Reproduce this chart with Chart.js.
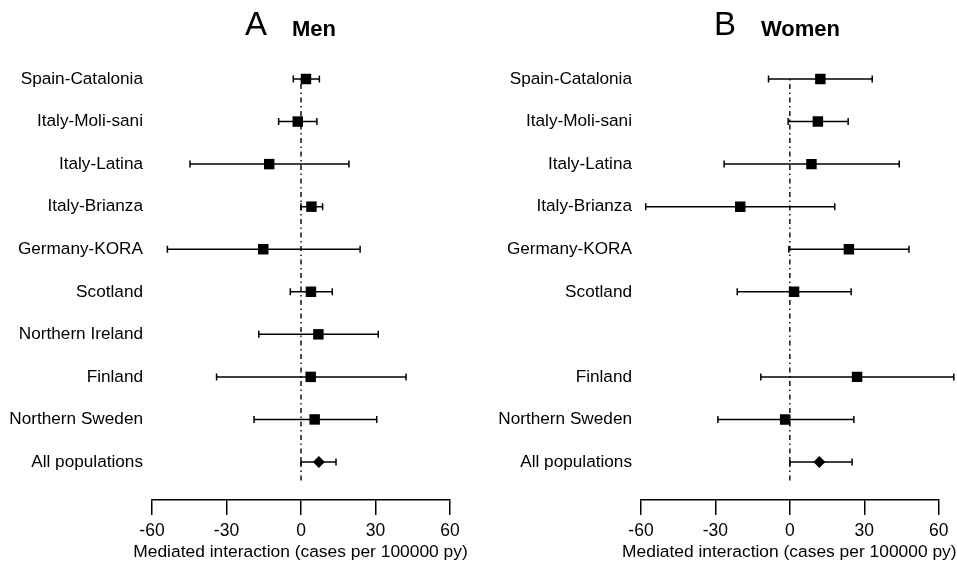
<!DOCTYPE html>
<html>
<head>
<meta charset="utf-8">
<script src="https://cdn.jsdelivr.net/npm/chart.js@4/dist/chart.umd.min.js"></script>
<style>
  body { margin: 0; background: #fff; }
  #wrap { position: relative; width: 957px; height: 562px; }
  .panel { position: absolute; top: 0; height: 562px; }
</style>
</head>
<body>
<div id="wrap">
  <div class="panel" style="left:0;width:478px"><canvas id="menChart" width="478" height="562"></canvas></div>
  <div class="panel" style="left:478px;width:479px"><canvas id="womenChart" width="479" height="562"></canvas></div>
</div>
<script>
const populations = ['Spain-Catalonia', 'Italy-Moli-sani', 'Italy-Latina', 'Italy-Brianza', 'Germany-KORA',
    'Scotland', 'Northern Ireland', 'Finland', 'Northern Sweden', 'All populations'];

const menEstimate = [2.0, -1.3, -12.8, 4.2, -15.2, 4.0, 7.0, 3.9, 5.5, 7.2];
const menLower = [-3.1, -9.0, -44.7, 0.0, -53.8, -4.3, -17.0, -34.0, -18.9, 0.0];
const menUpper = [7.4, 6.4, 19.3, 8.7, 23.8, 12.6, 31.1, 42.3, 30.5, 14.1];

// no estimate for Northern Ireland in women
const womenEstimate = [12.3, 11.3, 8.7, -20.0, 23.8, 1.7, null, 27.1, -1.9, 11.9];
const womenLower = [-8.6, -0.7, -26.5, -58.1, -0.4, -21.2, null, -11.7, -29.0, 0.0];
const womenUpper = [33.2, 23.5, 44.1, 18.1, 48.0, 24.7, null, 66.1, 25.8, 25.1];

const xTicks = [-60, -30, 0, 30, 60];
const xTitle = 'Mediated interaction (cases per 100000 py)';

Chart.defaults.font.family = '"Liberation Sans", Arial, sans-serif';
Chart.defaults.color = '#000';

function makePanel(id, cfg) {
    const last = populations.length - 1;
    const points = [];
    cfg.estimate.forEach((v, i) => {
        if (v !== null) points.push({ x: v, y: i });
    });
    const labels = populations.map((p, i) => cfg.estimate[i] === null ? '' : p);

    const errorBars = {
        id: 'errorBars',
        beforeDatasetsDraw(chart) {
            const ctx = chart.ctx, xs = chart.scales.x, ys = chart.scales.y;
            ctx.save();
            ctx.strokeStyle = '#000';
            ctx.lineWidth = 1.5;
            cfg.lower.forEach((lo, i) => {
                const hi = cfg.upper[i];
                if (lo === null) return;
                const py = ys.getPixelForValue(i);
                const x1 = xs.getPixelForValue(lo), x2 = xs.getPixelForValue(hi);
                ctx.beginPath();
                ctx.moveTo(x1, py); ctx.lineTo(x2, py);
                ctx.moveTo(x1, py - 3.5); ctx.lineTo(x1, py + 3.5);
                ctx.moveTo(x2, py - 3.5); ctx.lineTo(x2, py + 3.5);
                ctx.stroke();
            });
            ctx.restore();
        }
    };

    // panel letter + sex on top, axis title below (wider than the axis, so drawn by hand)
    const texts = {
        id: 'texts',
        afterDraw(chart) {
            const ctx = chart.ctx, xs = chart.scales.x;
            ctx.save();
            ctx.fillStyle = '#000';
            ctx.textBaseline = 'alphabetic';
            ctx.textAlign = 'left';
            ctx.font = '33px "Liberation Sans", Arial, sans-serif';
            ctx.fillText(cfg.letter, cfg.letterX, 35);
            ctx.font = 'bold 22px "Liberation Sans", Arial, sans-serif';
            ctx.fillText(cfg.sex, cfg.sexX, 36);
            ctx.textAlign = 'center';
            ctx.font = '17.4px "Liberation Sans", Arial, sans-serif';
            ctx.fillText(xTitle, (xs.left + xs.right) / 2 - 0.5, 557);
            ctx.restore();
        }
    };

    new Chart(document.getElementById(id), {
        type: 'scatter',
        data: {
            datasets: [{
                type: 'line',
                data: [{ x: 0, y: 0 }, { x: 0, y: 9.5 }],
                borderColor: '#000',
                borderWidth: 1.4,
                borderDash: [1.5, 3.5, 5, 3.5],
                pointRadius: 0,
                order: 2
            }, {
                data: points,
                pointStyle: points.map(p => p.y === last ? 'rectRot' : 'rect'),
                pointRadius: points.map(p => p.y === last ? 6 : 7.4),
                backgroundColor: '#000',
                borderColor: '#000',
                borderWidth: 0,
                order: 1
            }]
        },
        options: {
            responsive: false,
            animation: false,
            layout: { padding: { left: 0, right: cfg.padRight, top: 60, bottom: 0 } },
            plugins: {
                legend: { display: false },
                tooltip: { enabled: false }
            },
            scales: {
                x: {
                    type: 'linear',
                    min: -60,
                    max: 60,
                    afterBuildTicks: s => { s.ticks = xTicks.map(v => ({ value: v })); },
                    grid: { drawOnChartArea: false, drawTicks: true, tickLength: 15, color: '#000', lineWidth: 1.5 },
                    border: { display: true, color: '#000', width: 1.5 },
                    ticks: { font: { size: 17.5 }, padding: 6, maxRotation: 0 },
                    title: { display: false },
                    afterFit: s => { s.height = 62; }
                },
                y: {
                    type: 'linear',
                    reverse: true,
                    min: -0.4465,
                    max: 9.893,
                    afterBuildTicks: s => { s.ticks = populations.map((p, i) => ({ value: i })); },
                    ticks: { callback: v => labels[v], font: { size: 17.2 }, padding: 9, autoSkip: false },
                    grid: { display: false, drawTicks: false },
                    border: { display: false },
                    afterFit: s => { s.width = cfg.axisWidth; }
                }
            }
        },
        plugins: [errorBars, texts]
    });
}

makePanel('menChart', {
    estimate: menEstimate, lower: menLower, upper: menUpper,
    letter: 'A', sex: 'Men', letterX: 245, sexX: 292,
    axisWidth: 152, padRight: 28
});

makePanel('womenChart', {
    estimate: womenEstimate, lower: womenLower, upper: womenUpper,
    letter: 'B', sex: 'Women', letterX: 236, sexX: 283,
    axisWidth: 163, padRight: 18.3
});
</script>
</body>
</html>
